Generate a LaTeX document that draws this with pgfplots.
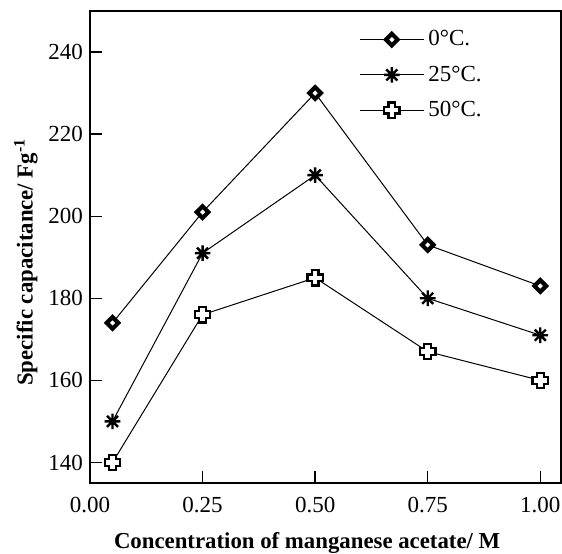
\documentclass[border=0pt]{standalone}
\usepackage{fontspec}
\setmainfont{Liberation Serif}
\usepackage{pgfplots}
\pgfplotsset{compat=1.18}

% plot marks like the original figure
\pgfdeclareplotmark{dia}{%
  \pgfpathmoveto{\pgfqpoint{0pt}{\pgfplotmarksize}}%
  \pgfpathlineto{\pgfqpoint{\pgfplotmarksize}{0pt}}%
  \pgfpathlineto{\pgfqpoint{0pt}{-\pgfplotmarksize}}%
  \pgfpathlineto{\pgfqpoint{-\pgfplotmarksize}{0pt}}%
  \pgfpathclose
  \pgfusepathqfillstroke}
\pgfdeclareplotmark{star8}{%
  \pgfpathmoveto{\pgfqpoint{0pt}{\pgfplotmarksize}}%
  \pgfpathlineto{\pgfqpoint{0pt}{-\pgfplotmarksize}}%
  \pgfpathmoveto{\pgfqpoint{\pgfplotmarksize}{0pt}}%
  \pgfpathlineto{\pgfqpoint{-\pgfplotmarksize}{0pt}}%
  \pgfpathmoveto{\pgfqpoint{.707\pgfplotmarksize}{.707\pgfplotmarksize}}%
  \pgfpathlineto{\pgfqpoint{-.707\pgfplotmarksize}{-.707\pgfplotmarksize}}%
  \pgfpathmoveto{\pgfqpoint{-.707\pgfplotmarksize}{.707\pgfplotmarksize}}%
  \pgfpathlineto{\pgfqpoint{.707\pgfplotmarksize}{-.707\pgfplotmarksize}}%
  \pgfusepathqstroke}
\pgfdeclareplotmark{fatplus}{%
  \pgfpathmoveto{\pgfqpoint{-.45\pgfplotmarksize}{\pgfplotmarksize}}%
  \pgfpathlineto{\pgfqpoint{.45\pgfplotmarksize}{\pgfplotmarksize}}%
  \pgfpathlineto{\pgfqpoint{.45\pgfplotmarksize}{.45\pgfplotmarksize}}%
  \pgfpathlineto{\pgfqpoint{\pgfplotmarksize}{.45\pgfplotmarksize}}%
  \pgfpathlineto{\pgfqpoint{\pgfplotmarksize}{-.45\pgfplotmarksize}}%
  \pgfpathlineto{\pgfqpoint{.45\pgfplotmarksize}{-.45\pgfplotmarksize}}%
  \pgfpathlineto{\pgfqpoint{.45\pgfplotmarksize}{-\pgfplotmarksize}}%
  \pgfpathlineto{\pgfqpoint{-.45\pgfplotmarksize}{-\pgfplotmarksize}}%
  \pgfpathlineto{\pgfqpoint{-.45\pgfplotmarksize}{-.45\pgfplotmarksize}}%
  \pgfpathlineto{\pgfqpoint{-\pgfplotmarksize}{-.45\pgfplotmarksize}}%
  \pgfpathlineto{\pgfqpoint{-\pgfplotmarksize}{.45\pgfplotmarksize}}%
  \pgfpathlineto{\pgfqpoint{-.45\pgfplotmarksize}{.45\pgfplotmarksize}}%
  \pgfpathclose
  \pgfusepathqfillstroke}

\begin{document}
\begin{tikzpicture}
    \begin{axis}[
        scale only axis,
        width=235.5pt, height=236pt,
        xmin=0, xmax=1.046,
        ymin=135, ymax=250,
        xtick={0,0.25,0.5,0.75,1},
        xticklabels={0.00,0.25,0.50,0.75,1.00},
        ytick={140,160,180,200,220,240},
        tick align=inside,
        major tick length=6pt,
        xtick pos=bottom, ytick pos=left,
        axis line style={line width=0.8pt},
        tick style={line width=0.7pt, black},
        /pgf/number format/assume math mode=true,
        ticklabel style={font=\fontsize{11.5}{13}\selectfont},
        xticklabel style={yshift=-3.5pt, inner xsep=0pt},
        xlabel={\textbf{Concentration of manganese acetate/ M}},
        ylabel={\textbf{Specific capacitance/ Fg\textsuperscript{-1}}},
        xlabel style={at={(axis description cs:0.461,-0.127)}, anchor=center},
        ylabel style={at={(axis description cs:-0.136,0.468)}, anchor=center},
        label style={font=\fontsize{11.4}{13}\selectfont, inner sep=0pt},
        legend style={draw=none, fill=none, at={(axis description cs:0.571,0.968)},
            anchor=north west, inner sep=0pt, row sep=4.5pt,
            font=\fontsize{11.5}{13}\selectfont},
        legend cell align=left,
        legend image code/.code={
            \draw[line width=0.5pt, black] (0pt,0pt) -- (32pt,0pt);
            \draw[#1] plot coordinates {(16pt,0pt)};
        },
        ]

    \addplot[black, line width=0.5pt, mark=dia, mark size=2.9pt,
        mark options={fill=white, draw=black, line width=2.1pt, solid}]
        coordinates {(0.05,174)(0.25,201)(0.5,230)(0.75,193)(1.0,183)};

    \addplot[black, line width=0.5pt, mark=star8, mark size=3.9pt,
        mark options={draw=black, line width=1.2pt, solid}]
        coordinates {(0.05,150)(0.25,191)(0.5,210)(0.75,180)(1.0,171)};

    \addplot[black, line width=0.5pt, mark=fatplus, mark size=3.8pt,
        mark options={fill=white, draw=black, line width=1.2pt, solid}]
        coordinates {(0.05,140)(0.25,176)(0.5,185)(0.75,167)(1.0,160)};

    \legend{0°C., 25°C., 50°C.}
    \end{axis}
    \path (current axis.south west) ++(-45pt,-35.5pt) coordinate (bl);
    \path (current axis.north east) ++(0.5pt,5.5pt) coordinate (tr);
    \path (bl) (tr);
\end{tikzpicture}
\end{document}
